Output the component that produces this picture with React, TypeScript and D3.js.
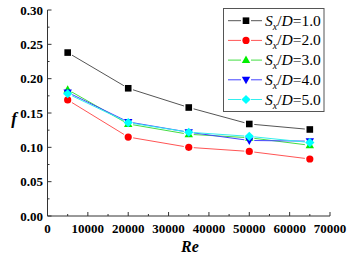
import React from "react";
import * as d3 from "d3";

const reValues = [5000, 20000, 35000, 50000, 65000];
const seriesNames = ["1.0", "2.0", "3.0", "4.0", "5.0"];
const s1 = [0.238, 0.186, 0.158, 0.134, 0.126];
const s2 = [0.169, 0.115, 0.1, 0.094, 0.083];
const s3 = [0.184, 0.134, 0.119, 0.114, 0.103];
const s4 = [0.18, 0.137, 0.122, 0.11, 0.109];
const s5 = [0.178, 0.136, 0.122, 0.116, 0.107];
const xTicks = [0, 10000, 20000, 30000, 40000, 50000, 60000, 70000];
const yTicks = [0, 0.05, 0.1, 0.15, 0.2, 0.25, 0.3];

const series = [
  { name: seriesNames[0], values: s1, color: "#000000", line: "#555555", shape: "square" },
  { name: seriesNames[1], values: s2, color: "#ff0000", line: "#ff5555", shape: "circle" },
  { name: seriesNames[2], values: s3, color: "#00ee00", line: "#44dd44", shape: "triangle" },
  { name: seriesNames[3], values: s4, color: "#0000ff", line: "#4444ff", shape: "triangleDown" },
  { name: seriesNames[4], values: s5, color: "#00ffff", line: "#33eeee", shape: "diamond" },
];

function Marker({ shape, x, y, color }: { shape: string; x: number; y: number; color: string }) {
  if (shape === "square") return <rect x={x - 3.3} y={y - 3.3} width={6.6} height={6.6} fill={color} />;
  if (shape === "circle") return <circle cx={x} cy={y} r={3.6} fill={color} />;
  if (shape === "triangle")
    return <path d={`M${x},${y - 4.5}L${x + 4.2},${y + 3}L${x - 4.2},${y + 3}Z`} fill={color} />;
  if (shape === "triangleDown")
    return <path d={`M${x},${y + 4.5}L${x + 4.2},${y - 3}L${x - 4.2},${y - 3}Z`} fill={color} />;
  return <path d={`M${x},${y - 4.6}L${x + 4.6},${y}L${x},${y + 4.6}L${x - 4.6},${y}Z`} fill={color} />;
}

export default function App() {
  const W = 349, H = 256;
  const x = d3.scaleLinear().domain([0, 70000]).range([47.5, 330]);
  const y = d3.scaleLinear().domain([0, 0.3]).range([216, 10]);
  const minorX = d3.range(5000, 70000, 10000);
  const minorY = d3.range(0.025, 0.3, 0.05);
  const gap = 5;
  const font = '"Liberation Serif", "Times New Roman", Times, serif';

  return (
    <svg width={W} height={H} style={{ position: "absolute", left: 0, top: 0, background: "#fff", fontFamily: font }}>
      {series.map((s) =>
        s.values.slice(0, -1).map((v, i) => {
          const x1 = x(reValues[i]), y1 = y(v), x2 = x(reValues[i + 1]), y2 = y(s.values[i + 1]);
          const len = Math.hypot(x2 - x1, y2 - y1);
          const ux = (x2 - x1) / len, uy = (y2 - y1) / len;
          return (
            <line key={s.name + i} x1={x1 + ux * gap} y1={y1 + uy * gap} x2={x2 - ux * gap} y2={y2 - uy * gap}
              stroke={s.line} strokeWidth={1} />
          );
        })
      )}
      {series.map((s) =>
        s.values.map((v, i) => <Marker key={s.name + "m" + i} shape={s.shape} x={x(reValues[i])} y={y(v)} color={s.color} />)
      )}
      <line x1={x(0)} x2={x(70000)} y1={216} y2={216} stroke="#333" strokeWidth={1} />
      <line x1={x(0)} x2={x(0)} y1={10} y2={216} stroke="#333" strokeWidth={1} />
      {xTicks.map((t) => (
        <g key={"xt" + t}>
          <line x1={x(t)} x2={x(t)} y1={216} y2={212} stroke="#333" />
          <text x={x(t)} y={233} textAnchor="middle" fontSize={13} fontWeight="bold" fill="#000">{t}</text>
        </g>
      ))}
      {minorX.map((t) => (
        <line key={"mx" + t} x1={x(t)} x2={x(t)} y1={216} y2={214} stroke="#333" />
      ))}
      {yTicks.map((t) => (
        <g key={"yt" + t}>
          <line x1={x(0)} x2={x(0) + 4} y1={y(t)} y2={y(t)} stroke="#333" />
          <text x={43} y={y(t) + 4.5} textAnchor="end" fontSize={13} fontWeight="bold" fill="#000">{t.toFixed(2)}</text>
        </g>
      ))}
      {minorY.map((t) => (
        <line key={"my" + t} x1={x(0)} x2={x(0) + 2} y1={y(t)} y2={y(t)} stroke="#333" />
      ))}
      <text x={190} y={252} textAnchor="middle" fontSize={16} fontWeight="bold" fontStyle="italic">Re</text>
      <text x={14} y={124} textAnchor="middle" fontSize={17} fontWeight="bold" fontStyle="italic">f</text>
      <rect x={223.5} y={8.5} width={100.5} height={103} fill="#fff" stroke="#555" strokeWidth={1} />
      {series.map((s, i) => {
        const ly = 20.7 + i * 19.7;
        return (
          <g key={"lg" + s.name}>
            <line x1={228} x2={241} y1={ly} y2={ly} stroke={s.line} />
            <line x1={251} x2={262} y1={ly} y2={ly} stroke={s.line} />
            <Marker shape={s.shape} x={246} y={ly} color={s.color} />
            <text x={265} y={ly + 5} fontSize={15.5} fill="#000">
              <tspan fontStyle="italic">S</tspan>
              <tspan fontStyle="italic" fontSize={10} dy={4}>x</tspan>
              <tspan dy={-4}>/</tspan>
              <tspan fontStyle="italic">D</tspan>
              <tspan>={s.name}</tspan>
            </text>
          </g>
        );
      })}
    </svg>
  );
}
